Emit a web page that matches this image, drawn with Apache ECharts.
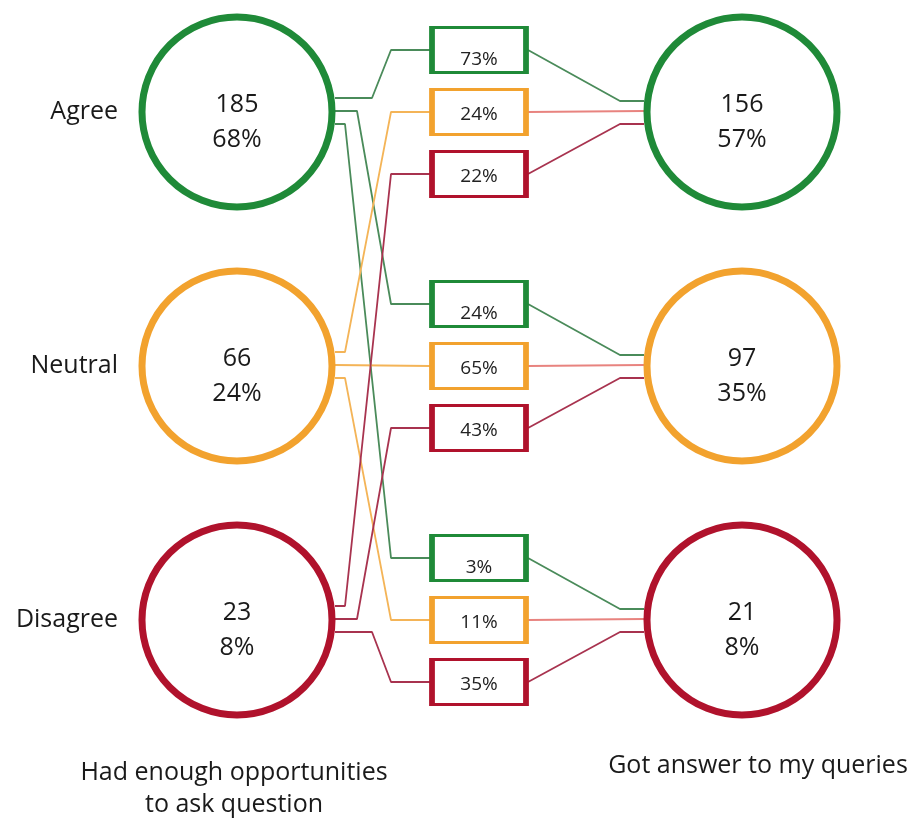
<!DOCTYPE html>
<html>
<head>
<meta charset="utf-8">
<script src="https://cdn.jsdelivr.net/npm/echarts@6/dist/echarts.min.js"></script>
<style>
  html, body { margin: 0; padding: 0; background: #fff; }
  #chart { width: 921px; height: 822px; }
</style>
</head>
<body>
<div id="chart"></div>
<script>
// categories and values
const categories = ['Agree', 'Neutral', 'Disagree'];
const leftCounts = [185, 66, 23];
const leftPcts = ['68%', '24%', '8%'];
const rightCounts = [156, 97, 21];
const rightPcts = ['57%', '35%', '8%'];
// flowPcts[rightGroup][leftCategory]
const flowPcts = [
  ['73%', '24%', '22%'],
  ['24%', '65%', '43%'],
  ['3%', '11%', '35%']
];
const leftTitle = 'Had enough opportunities\nto ask question';
const rightTitle = 'Got answer to my queries';

// colours
const circleColors = ['#1f8a38', '#f2a22e', '#b0122c'];
const leftLineColors = ['#4a8b5a', '#f4b457', '#a8334f'];
const rightLineColors = ['#4a8b5a', '#e8837f', '#a8334f'];

// layout helpers (layout space = pixels of the canvas)
const leftX = 237, rightX = 742, boxX = 479;
const rowY = i => 112 + 254 * i;
const boxY = (g, j) => rowY(g) + (j - 1) * 62;
const boxLeft = 430, boxRight = 528;
const circleR = 98;

const chart = echarts.init(document.getElementById('chart'), null, { renderer: 'canvas' });

const series = [];

// connectors: left circle -> box
const leftBendX = [[372, 357, 345], [345, 335, 345], [345, 357, 372]];
const leftExitOff = [-14, -1, 12];
categories.forEach((c, i) => {
  for (let g = 0; g < 3; g++) {
    const ey = rowY(i) + leftExitOff[g];
    const ty = boxY(g, i);
    const bx = leftBendX[i][g];
    const pts = (i === 1 && g === 1)
      ? [[leftX + circleR, ey], [boxLeft, ty]]
      : [[leftX + circleR, ey], [bx, ey], [391, ty], [boxLeft, ty]];
    series.push({
      type: 'line', data: pts, symbol: 'none', silent: true, z: 1,
      lineStyle: { color: leftLineColors[i], width: 1.8 }
    });
  }
});

// connectors: box -> right circle
const rightEntryOff = [-11, -1, 12];
for (let g = 0; g < 3; g++) {
  for (let j = 0; j < 3; j++) {
    const ty = rowY(g) + rightEntryOff[j];
    const sy = boxY(g, j);
    const pts = j === 1
      ? [[boxRight, sy], [rightX - circleR, ty]]
      : [[boxRight, sy], [620, ty], [rightX - circleR, ty]];
    series.push({
      type: 'line', data: pts, symbol: 'none', silent: true, z: 1,
      lineStyle: { color: rightLineColors[j], width: 1.8 }
    });
  }
}

// circles
const circleLabel = {
  show: true, position: 'inside', color: '#1a1a1a', offset: [0, 10],
  fontFamily: 'Open Sans', fontSize: 25, lineHeight: 35
};
series.push({
  type: 'scatter', symbol: 'circle', symbolSize: 2 * circleR - 6, z: 3,
  data: categories.map((c, i) => ({
    value: [leftX, rowY(i)],
    itemStyle: { color: '#fff', borderColor: circleColors[i], borderWidth: 7, opacity: 1 },
    label: { formatter: leftCounts[i] + '\n' + leftPcts[i] }
  })),
  label: circleLabel
});
series.push({
  type: 'scatter', symbol: 'circle', symbolSize: 2 * circleR - 6, z: 3,
  data: categories.map((c, i) => ({
    value: [rightX, rowY(i)],
    itemStyle: { color: '#fff', borderColor: circleColors[i], borderWidth: 7, opacity: 1 },
    label: { formatter: rightCounts[i] + '\n' + rightPcts[i] }
  })),
  label: circleLabel
});

// boxes
const boxData = [];
for (let g = 0; g < 3; g++) {
  for (let j = 0; j < 3; j++) {
    boxData.push({
      value: [boxX, boxY(g, j)],
      itemStyle: { color: '#fff', borderColor: circleColors[j], borderWidth: 4, opacity: 1 },
      label: { formatter: flowPcts[g][j], offset: [0, j === 0 ? 10 : 3] }
    });
  }
}
series.push({
  type: 'scatter', symbol: 'rect', symbolSize: [94, 45], z: 3,
  data: boxData,
  label: {
    show: true, position: 'inside', color: '#222',
    fontFamily: 'Open Sans', fontSize: 19
  }
});

// category labels on the left
series.push({
  type: 'scatter', symbolSize: 0, z: 4,
  itemStyle: { opacity: 1 },
  data: categories.map((c, i) => ({ value: [118, rowY(i)], name: c })),
  label: {
    show: true, position: 'left', distance: 0, formatter: '{b}', color: '#1a1a1a',
    fontFamily: 'Open Sans', fontSize: 25
  }
});

chart.setOption({
  animation: false,
  backgroundColor: '#fff',
  grid: { left: 0, right: 0, top: 0, bottom: 0 },
  xAxis: { type: 'value', min: 0, max: 921, show: false },
  yAxis: { type: 'value', min: 0, max: 822, inverse: true, show: false },
  graphic: [
    {
      type: 'text', x: 234, y: 757,
      style: {
        text: leftTitle, align: 'center', verticalAlign: 'top',
        font: '25px "Open Sans"', fill: '#1a1a1a', lineHeight: 32
      }
    },
    {
      type: 'text', x: 758, y: 753,
      style: {
        text: rightTitle, align: 'center', verticalAlign: 'top',
        font: '25px "Open Sans"', fill: '#1a1a1a'
      }
    }
  ],
  series: series
});
</script>
</body>
</html>
